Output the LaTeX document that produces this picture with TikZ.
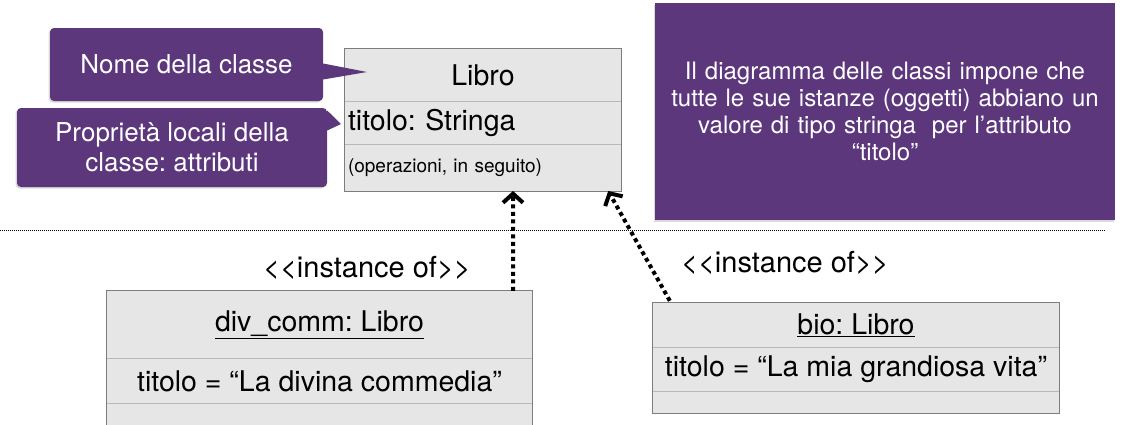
\documentclass[tikz,border=0pt]{standalone}
\usepackage{fontspec}
\setmainfont{TeX Gyre Heros}
\usetikzlibrary{positioning,arrows.meta,shadows}
\definecolor{notepurple}{RGB}{93,55,124}
\definecolor{boxgray}{RGB}{230,230,230}
\definecolor{bordergray}{RGB}{125,125,125}
\definecolor{linegray}{RGB}{185,185,185}
\frenchspacing

\tikzset{
  note/.style={fill=notepurple, text=white, rounded corners=4pt, inner sep=0pt,
    align=center, font=\fontsize{26}{30}\selectfont,
    drop shadow={shadow xshift=-1.5pt, shadow yshift=-1.5pt, opacity=.3}},
  compart/.style={fill=boxgray, inner sep=0pt, font=\fontsize{28.5}{33}\selectfont},
  attrpart/.style={text width=270pt, inner xsep=3pt, align=left},
  divider/.style={draw=linegray, line width=1pt},
  border/.style={draw=bordergray, line width=1pt},
  instof/.style={line width=4pt, dash pattern=on 4pt off 3.5pt,
    -{Straight Barb[length=9pt,width=20pt,line width=4pt]}},
  stereo/.style={font=\fontsize{29}{34}\selectfont}
}

\begin{document}
\begin{tikzpicture}[x=1pt,y=-1pt]
\useasboundingbox (0,0) rectangle (1134,424);

% classe Libro
\node[compart, minimum width=276pt, minimum height=52pt] (libro) at (483,75) {Libro};
\node[compart, attrpart, minimum height=43pt, below=0pt of libro] (libroattr) {titolo: Stringa};
\node[compart, attrpart, minimum height=46pt, below=0pt of libroattr,
  font=\fontsize{19}{22}\selectfont] (libroops) {(operazioni, in seguito)};
\draw[divider] (libro.south west) -- (libro.south east);
\draw[divider] (libroattr.south west) -- (libroattr.south east);
\draw[border] (libro.north west) rectangle (libroops.south east);

% note
\node[note, minimum width=273pt, minimum height=73pt] (namenote) at (186.5,64.5) {Nome della classe};
\coordinate (nametip) at (367,72);
\fill[notepurple] ([yshift=1pt]namenote.east) -- (nametip) -- ([yshift=-15pt]namenote.east) -- cycle;

\node[note, minimum width=310pt, minimum height=79pt] (attrnote) at (172,147.5)
  {Propriet\`a locali della\\classe: attributi};
\coordinate (attrtip) at (341,124);
\fill[notepurple] ([yshift=37pt]attrnote.east) -- (attrtip) -- ([yshift=17pt]attrnote.east) -- cycle;

\node[note, rounded corners=0pt, minimum width=460pt, minimum height=217pt, text width=450pt,
  font=\fontsize{24}{27}\selectfont] (bignote) at (885,111.5)
  {Il diagramma delle classi impone che\\
   tutte le sue istanze (oggetti) abbiano un\\
   valore di tipo stringa\ \ per l’attributo\\
   “titolo”};

% separatore
\draw[line width=1pt, dash pattern=on 1pt off 1pt] (0,230) -- (1105,230);

% oggetto div_comm
\node[compart, minimum width=425pt, minimum height=67pt] (divcommname) at (319.5,324.5)
  {\underline{div\_comm: Libro}};
\node[compart, minimum width=425pt, minimum height=45pt, below=0pt of divcommname] (divcommattr)
  {titolo = “La divina commedia”};
\node[compart, minimum width=425pt, minimum height=40pt, below=0pt of divcommattr] (divcommops) {};
\draw[divider] (divcommname.south west) -- (divcommname.south east);
\draw[divider] (divcommattr.south west) -- (divcommattr.south east);
\draw[border] (divcommname.north west) rectangle (divcommops.south east);

% oggetto bio
\node[compart, minimum width=406pt, minimum height=44pt] (bioname) at (856,325)
  {\underline{bio: Libro}};
\node[compart, minimum width=406pt, minimum height=44pt, below=0pt of bioname] (bioattr)
  {titolo = “La mia grandiosa vita”};
\node[compart, minimum width=406pt, minimum height=21pt, below=0pt of bioattr] (bioops) {};
\draw[divider] (bioname.south west) -- (bioname.south east);
\draw[divider] (bioattr.south west) -- (bioattr.south east);
\draw[border] (bioname.north west) rectangle (bioops.south east);

% instance of
\node[stereo] (divcommstereo) at (367,268) {<{}<instance of>{}>};
\node[stereo] (biostereo) at (785,263) {<{}<instance of>{}>};
\draw[instof] ([xshift=-19pt]divcommname.north east) -- ([xshift=30pt]libroops.south);
\draw[instof] ([xshift=17pt,yshift=2pt]bioname.north west) -- ([xshift=-13pt]libroops.south east);
\end{tikzpicture}
\end{document}
